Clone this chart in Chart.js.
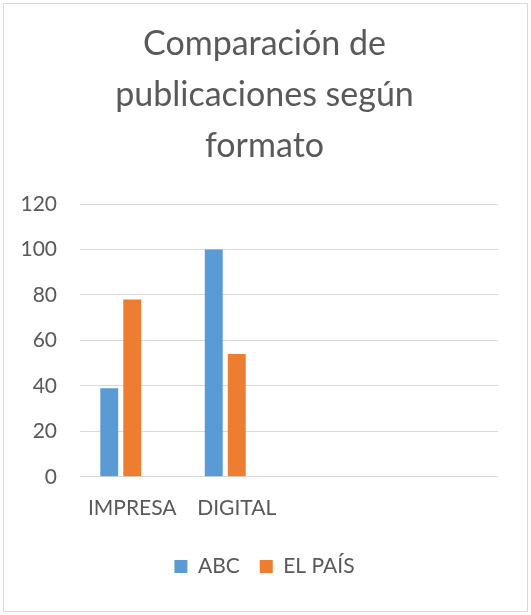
<!DOCTYPE html>
<html>
<head>
<meta charset="utf-8">
<script src="https://cdn.jsdelivr.net/npm/chart.js@4"></script>
<style>
    html, body { margin: 0; padding: 0; background: #fff; }
    #wrap { position: relative; width: 531px; height: 615px; }
    #frame { position: absolute; left: 3px; top: 3px; width: 523px; height: 607px; border: 1px solid #d9d9d9; pointer-events: none; }
    canvas { position: absolute; left: 0; top: 0; }
</style>
</head>
<body>
<div id="wrap">
    <canvas id="chart" width="531" height="615"></canvas>
    <div id="frame"></div>
</div>
<script>
const titleLines = ['Comparación de', 'publicaciones según', 'formato'];
const categories = ['IMPRESA', 'DIGITAL', '', ''];
const abcValues = [39, 100, null, null];
const elPaisValues = [78, 54, null, null];
const emptySeries = [null, null, null, null];
const yTicks = [0, 20, 40, 60, 80, 100, 120];

const textColor = '#595959';
const gridColor = '#d9d9d9';
const font = 'Lato, "DejaVu Sans", sans-serif';

const ctx = document.getElementById('chart').getContext('2d');
new Chart(ctx, {
    type: 'bar',
    data: {
        labels: categories,
        datasets: [
            { label: 'ABC', data: abcValues, backgroundColor: '#5b9bd5' },
            { label: 'EL PAÍS', data: elPaisValues, backgroundColor: '#ed7d31' },
            { label: '', data: emptySeries, backgroundColor: '#a5a5a5' }
        ]
    },
    options: {
        responsive: false,
        animation: false,
        events: [],
        datasets: {
            bar: { categoryPercentage: 0.66, barPercentage: 0.78 }
        },
        layout: {
            padding: { left: 0, right: 2, top: 0, bottom: 28 }
        },
        plugins: {
            title: {
                display: true,
                text: titleLines,
                color: textColor,
                font: { family: font, size: 34, weight: 'normal', lineHeight: 1.5 },
                padding: { top: 19, bottom: 32 }
            },
            legend: {
                position: 'bottom',
                labels: {
                    color: textColor,
                    font: { family: font, size: 21 },
                    boxWidth: 13,
                    boxHeight: 13,
                    padding: 20,
                    filter: item => item.text !== ''
                }
            },
            tooltip: { enabled: false }
        },
        scales: {
            x: {
                afterFit: scale => {
                    // leave blank space right of the plot, like the original
                    scale.paddingRight = 33;
                    scale.height += 4;
                },
                grid: { display: false },
                border: { display: false },
                ticks: {
                    color: textColor,
                    font: { family: font, size: 21 },
                    padding: 11,
                    maxRotation: 0
                }
            },
            y: {
                min: 0,
                max: 120,
                afterBuildTicks: scale => {
                    scale.ticks = yTicks.map(v => ({ value: v }));
                },
                afterFit: scale => {
                    scale.width = 80;
                },
                grid: { color: gridColor, lineWidth: 1, drawTicks: false },
                border: { display: false },
                ticks: {
                    color: textColor,
                    font: { family: font, size: 21 },
                    padding: 23
                }
            }
        }
    }
});
</script>
</body>
</html>
